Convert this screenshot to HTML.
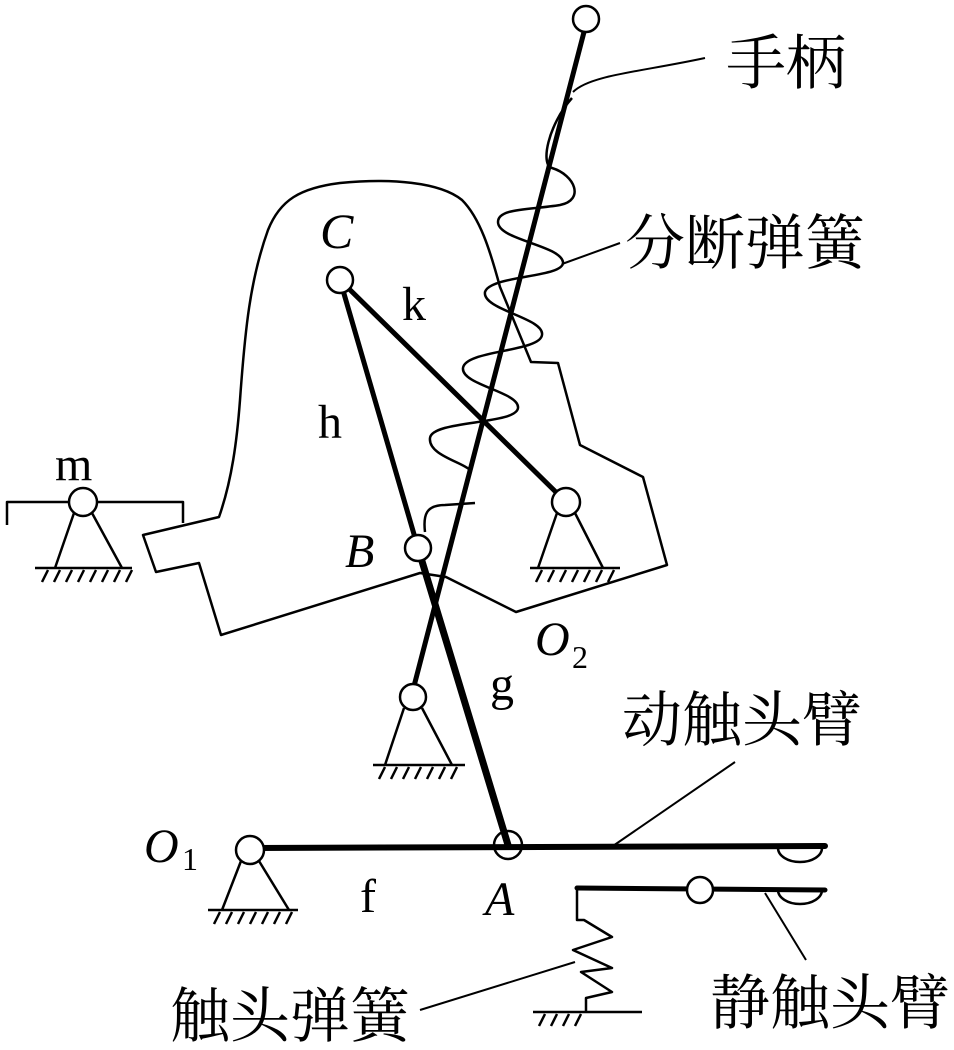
<!DOCTYPE html>
<html><head><meta charset="utf-8"><style>
html,body{margin:0;padding:0;background:#fff;}
svg{display:block}
.t{font-family:"Liberation Serif",serif;fill:#000}
.cn{font-family:"Liberation Serif","Noto Serif CJK SC",serif;fill:#000;font-size:60px}
</style></head><body>
<svg width="954" height="1050" viewBox="0 0 954 1050" xmlns="http://www.w3.org/2000/svg">
<g fill="none" stroke="#000" stroke-width="2.5" stroke-linejoin="round">
<path d="M219,517 C232,480 237,440 240,400 C245,330 250,280 268,230 C280,200 300,188 340,183 C390,178 440,182 462,200 C480,218 490,250 500,287 L531,362 L558,363 L580,445 L643,477 L667,565 L516,612 L446,577 L420,573 L221,635 L199,563 L156,572 L143,535 Z"/>
<path d="M7,525 L7,502 L183,502 L183,523"/>
<path d="M572,98 C548,125 540,165 552,168 C575,175 585,200 560,205 C530,210 498,208 498,222 C498,240 560,245 563,262 C565,278 490,275 485,292 C482,310 545,318 542,335 C540,352 465,350 463,368 C461,385 520,392 518,408 C516,425 432,420 430,438 C428,455 462,462 470,470"/>
<path d="M425,532 C423,515 426,505 445,505 L475,503"/>
<path d="M573,92 C590,75 640,72 705,58" stroke-width="2"/>
<path d="M562,264 L620,243" stroke-width="2"/>
<path d="M610,848 L735,762" stroke-width="2"/>
<path d="M765,893 L806,960" stroke-width="2"/>
<path d="M420,1010 L575,962" stroke-width="2"/>
<path d="M74,513 L55,568 M92,513 L122,568 M35,568 L132,568"/>
<path d="M557,513 L538,568 M575,513 L603,568 M530,568 L620,568"/>
<path d="M404,708 L385,765 M422,708 L452,765 M373,765 L465,765"/>
<path d="M241,861 L222,910 M259,861 L289,910 M208,910 L298,910"/>
<path d="M48,570 l-6,12 M60,570 l-6,12 M72,570 l-6,12 M84,570 l-6,12 M96,570 l-6,12 M108,570 l-6,12 M120,570 l-6,12 M132,570 l-6,12"/>
<path d="M542,570 l-6,12 M554,570 l-6,12 M566,570 l-6,12 M578,570 l-6,12 M590,570 l-6,12 M602,570 l-6,12 M614,570 l-6,12"/>
<path d="M385,767 l-6,12 M397,767 l-6,12 M409,767 l-6,12 M421,767 l-6,12 M433,767 l-6,12 M445,767 l-6,12 M457,767 l-6,12"/>
<path d="M220,912 l-6,12 M232,912 l-6,12 M244,912 l-6,12 M256,912 l-6,12 M268,912 l-6,12 M280,912 l-6,12 M292,912 l-6,12"/>
<path d="M545,1014 l-6,12 M557,1014 l-6,12 M569,1014 l-6,12 M581,1014 l-6,12"/>
<path d="M577,890 L577,920 L584,920 L612,937 L573,950 L612,968 L581,972 L612,992 L586,998 L586,1012 M533,1012 L642,1012"/>
<path d="M778,848 A22,14 0 0 0 822,848"/>
<path d="M778,890 A22,14 0 0 0 822,890"/>
</g>
<g stroke="#000" fill="none" stroke-linecap="round">
<line x1="584" y1="32" x2="413" y2="690" stroke-width="5"/>
<line x1="340" y1="280" x2="418" y2="548" stroke-width="5"/>
<line x1="340" y1="280" x2="566" y2="502" stroke-width="5"/>
<line x1="418" y1="548" x2="508" y2="845" stroke-width="7"/>
<line x1="250" y1="848" x2="825" y2="846" stroke-width="6"/>
<line x1="577" y1="888" x2="825" y2="890" stroke-width="5"/>
</g>
<g fill="#fff" stroke="#000" stroke-width="2.5">
<circle cx="586" cy="19" r="13"/>
<circle cx="340" cy="280" r="13"/>
<circle cx="418" cy="548" r="13"/>
<circle cx="566" cy="502" r="14"/>
<circle cx="83" cy="502" r="14"/>
<circle cx="413" cy="697" r="13"/>
<circle cx="250" cy="850" r="14"/>
<circle cx="508" cy="845" r="14" fill="none"/>
<circle cx="700" cy="890" r="13"/>
</g>
<text class="t" x="320" y="248" font-size="50" font-style="italic">C</text>
<text class="t" x="402" y="320" font-size="48">k</text>
<text class="t" x="318" y="438" font-size="48">h</text>
<text class="t" x="55" y="480" font-size="48">m</text>
<text class="t" x="345" y="567" font-size="48" font-style="italic">B</text>
<text class="t" x="535" y="655" font-size="48" font-style="italic">O</text>
<text class="t" x="572" y="668" font-size="32">2</text>
<text class="t" x="490" y="700" font-size="48">g</text>
<text class="t" x="144" y="862" font-size="48" font-style="italic">O</text>
<text class="t" x="182" y="870" font-size="32">1</text>
<text class="t" x="360" y="912" font-size="48">f</text>
<text class="t" x="485" y="915" font-size="48" font-style="italic">A</text>
<text class="cn" x="726" y="84">手柄</text>
<text class="cn" x="625" y="264">分断弹簧</text>
<text class="cn" x="622" y="741">动触头臂</text>
<text class="cn" x="710" y="1024">静触头臂</text>
<text class="cn" x="170" y="1037">触头弹簧</text>
</svg>
</body></html>
